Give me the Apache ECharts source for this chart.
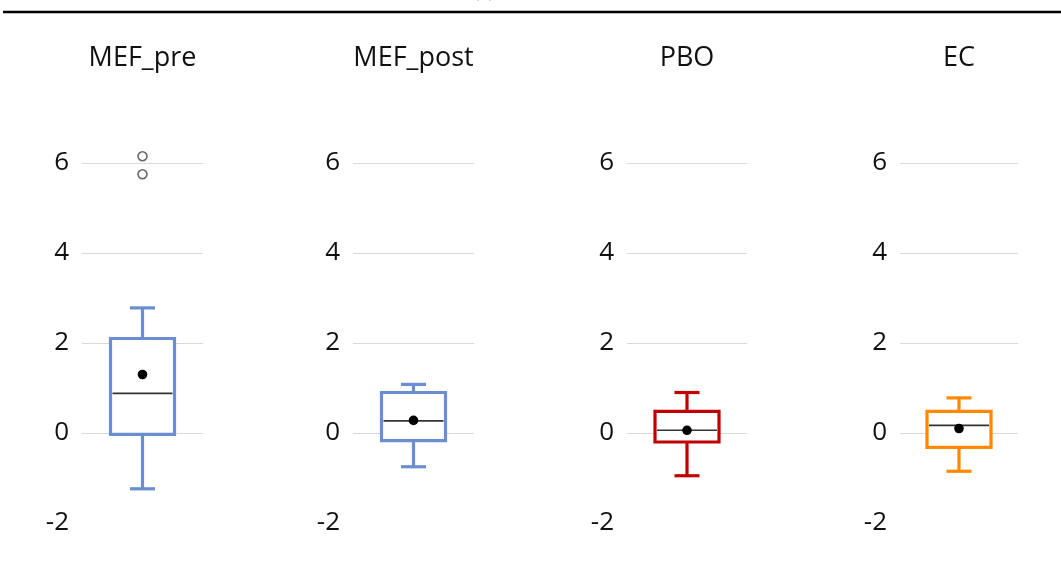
<!DOCTYPE html>
<html>
<head>
<meta charset="utf-8">
<script src="https://cdn.jsdelivr.net/npm/echarts@6/dist/echarts.min.js"></script>
<style>
  html, body { margin: 0; padding: 0; background: #fff; }
  #chart { width: 1061px; height: 567px; }
</style>
</head>
<body>
<div id="chart"></div>
<script>
// panels (groups) and their box stats: [min, q1, median, q3, max, mean]
var groups = ["MEF_pre", "MEF_post", "PBO", "EC"];
var mefPre = [-1.24, -0.03, 0.88, 2.1, 2.78, 1.3];
var mefPost = [-0.75, -0.17, 0.27, 0.9, 1.08, 0.28];
var pbo = [-0.95, -0.2, 0.06, 0.48, 0.9, 0.06];
var ec = [-0.85, -0.32, 0.17, 0.48, 0.78, 0.1];
var mefPreOutliers = [5.75, 6.15];
var yTicks = [-2, 0, 2, 4, 6];

var stats = [mefPre, mefPost, pbo, ec];
var colors = ["#6A8FD0", "#6A8FD0", "#C00000", "#FF8800"];
// grid placement for each panel
var grids = [
  { left: 82, width: 121 },
  { left: 353, width: 121 },
  { left: 627, width: 120 },
  { left: 900, width: 118 }
];

var chart = echarts.init(document.getElementById("chart"));

function boxRender(color) {
  return function (params, api) {
    var cat = api.value(0);
    var pMin = api.coord([cat, api.value(1)]);
    var pQ1 = api.coord([cat, api.value(2)]);
    var pMed = api.coord([cat, api.value(3)]);
    var pQ3 = api.coord([cat, api.value(4)]);
    var pMax = api.coord([cat, api.value(5)]);
    var pMean = api.coord([cat, api.value(6)]);
    var cx = pMed[0];
    var hb = 32, hc = 12.5;
    var st = { stroke: color, lineWidth: 3.2, fill: null };
    return {
      type: "group",
      children: [
        { type: "line", shape: { x1: cx, y1: pQ3[1], x2: cx, y2: pMax[1] }, style: st },
        { type: "line", shape: { x1: cx - hc, y1: pMax[1], x2: cx + hc, y2: pMax[1] }, style: st },
        { type: "line", shape: { x1: cx, y1: pQ1[1], x2: cx, y2: pMin[1] }, style: st },
        { type: "line", shape: { x1: cx - hc, y1: pMin[1], x2: cx + hc, y2: pMin[1] }, style: st },
        {
          type: "rect",
          shape: { x: cx - hb, y: pQ3[1], width: hb * 2, height: pQ1[1] - pQ3[1] },
          style: { stroke: color, lineWidth: 3.2, fill: "#fff" }
        },
        { type: "line", shape: { x1: cx - hb + 2, y1: pMed[1], x2: cx + hb - 2, y2: pMed[1] }, style: { stroke: "#333", lineWidth: 1.6 } },
        { type: "circle", shape: { cx: pMean[0], cy: pMean[1], r: 4.8 }, style: { fill: "#000" } }
      ]
    };
  };
}

var option = {
  animation: false,
  backgroundColor: "#fff",
  textStyle: { fontFamily: "Open Sans, Noto Sans, sans-serif" },
  grid: grids.map(function (g) {
    return { left: g.left, width: g.width, top: 163, bottom: 44 };
  }),
  xAxis: grids.map(function (g, i) {
    return {
      type: "category",
      gridIndex: i,
      data: [groups[i]],
      show: false
    };
  }),
  yAxis: grids.map(function (g, i) {
    return {
      type: "value",
      gridIndex: i,
      min: yTicks[0],
      max: yTicks[yTicks.length - 1],
      interval: 2,
      axisLine: { show: false },
      axisTick: { show: false },
      axisLabel: { fontSize: 26, color: "#111", margin: 13 },
      splitLine: {
        lineStyle: { color: ["rgba(0,0,0,0)", "#D9D9D9", "#D9D9D9", "#D9D9D9", "#D9D9D9"], width: 1.2 }
      }
    };
  }),
  series: stats.map(function (s, i) {
    return {
      type: "custom",
      xAxisIndex: i,
      yAxisIndex: i,
      renderItem: boxRender(colors[i]),
      encode: { x: 0, y: [1, 2, 3, 4, 5, 6] },
      data: [[0].concat(s)]
    };
  }).concat([{
    type: "scatter",
    xAxisIndex: 0,
    yAxisIndex: 0,
    clip: false,
    symbol: "circle",
    symbolSize: 9,
    itemStyle: { color: "#fff", borderColor: "#444", borderWidth: 1.6 },
    data: mefPreOutliers.map(function (v) { return [0, v]; })
  }]),
  graphic: [
    { type: "line", shape: { x1: 3, y1: 12, x2: 1061, y2: 12 }, style: { stroke: "#000", lineWidth: 2.5 } },
    { type: "text", x: 484, y: -15, style: { text: "(a)", font: "16px Open Sans", fill: "#888", textAlign: "center" } }
  ].concat(groups.map(function (name, i) {
    return {
      type: "text",
      x: grids[i].left + grids[i].width / 2,
      y: 58,
      style: {
        text: name,
        font: "27px Open Sans",
        fill: "#111",
        textAlign: "center",
        textVerticalAlign: "middle"
      }
    };
  }))
};

chart.setOption(option);
</script>
</body>
</html>
